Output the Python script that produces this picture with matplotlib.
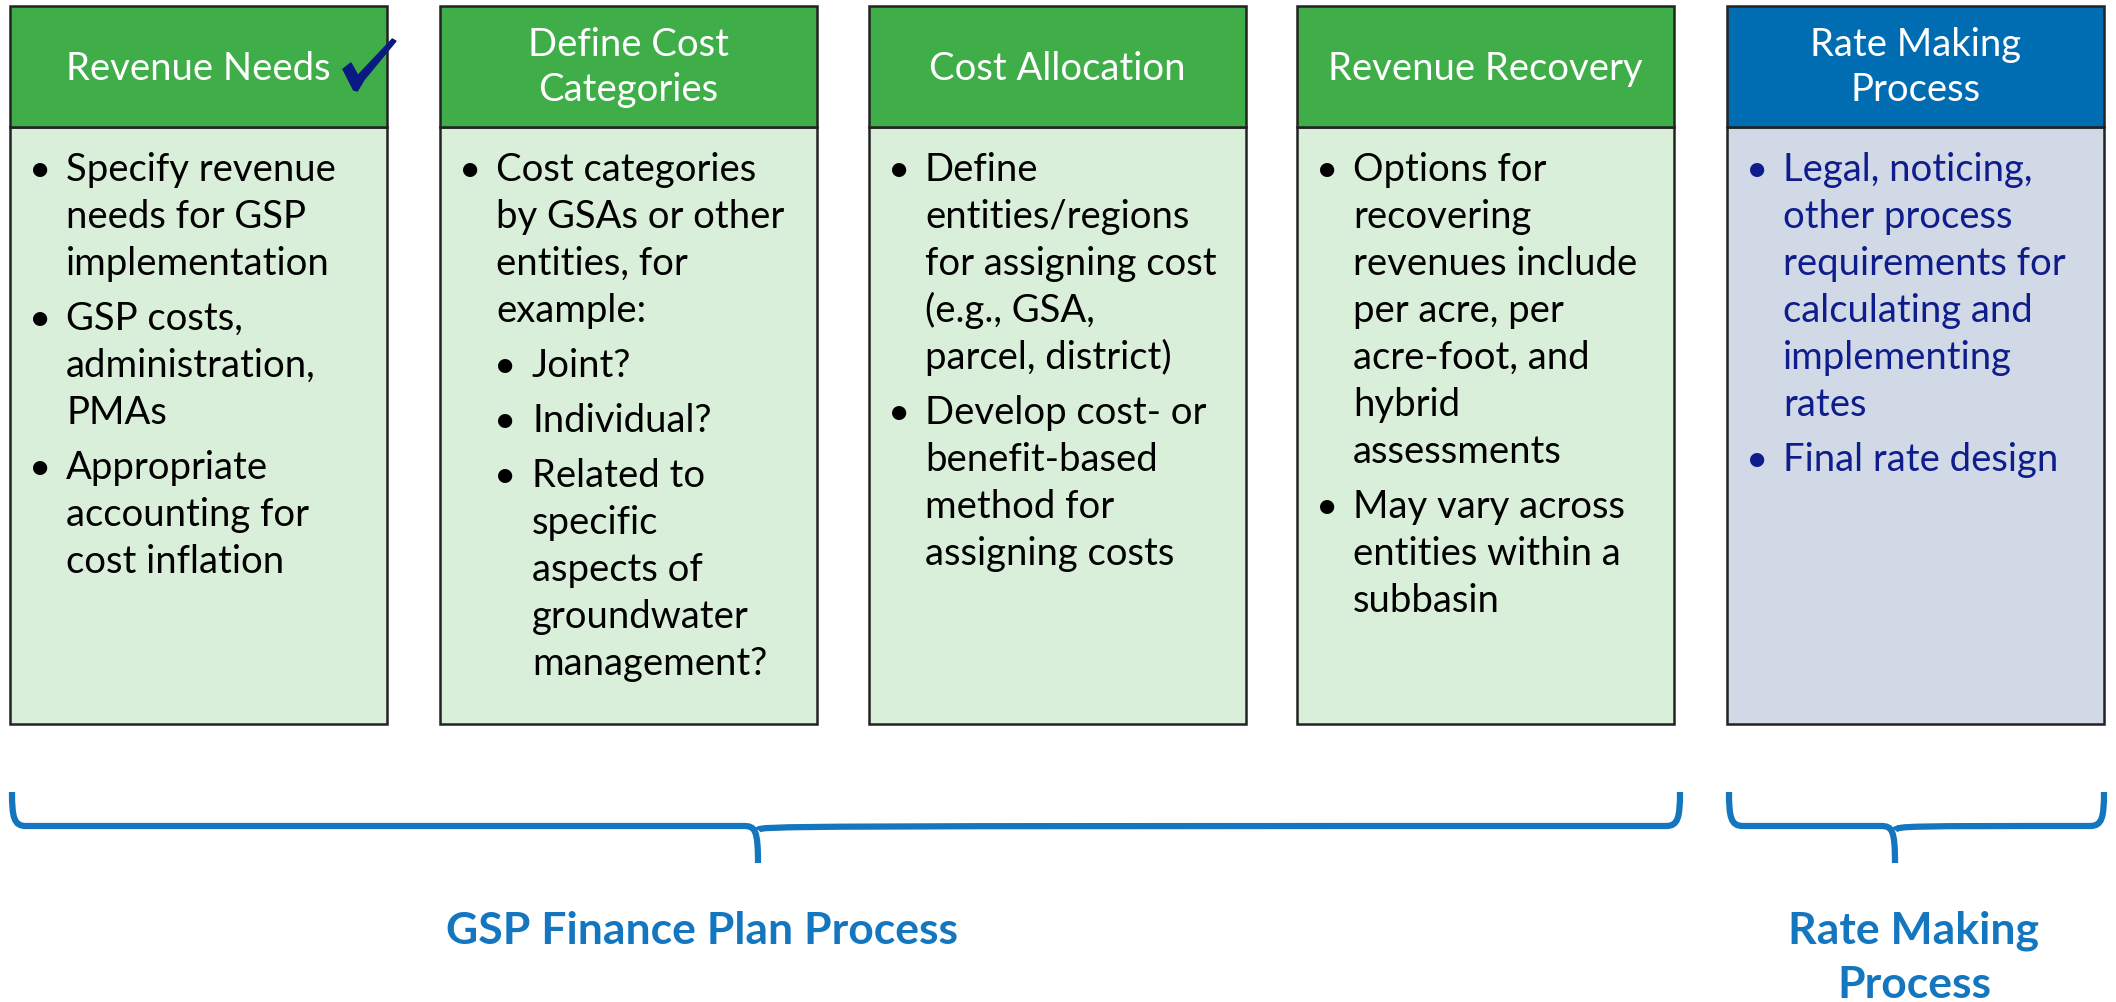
import matplotlib
matplotlib.use("Agg")
import matplotlib.pyplot as plt
from matplotlib.patches import Rectangle, PathPatch, Polygon
from matplotlib.path import Path

# ---- content ----
titles = ["Revenue Needs", "Define Cost\nCategories", "Cost Allocation",
          "Revenue Recovery", "Rate Making\nProcess"]

# each bullet: (level, [wrapped lines])
box1 = [(0, ["Specify revenue", "needs for GSP", "implementation"]),
        (0, ["GSP costs,", "administration,", "PMAs"]),
        (0, ["Appropriate", "accounting for", "cost inflation"])]
box2 = [(0, ["Cost categories", "by GSAs or other", "entities, for", "example:"]),
        (1, ["Joint?"]),
        (1, ["Individual?"]),
        (1, ["Related to", "specific", "aspects of", "groundwater", "management?"])]
box3 = [(0, ["Define", "entities/regions", "for assigning cost", "(e.g., GSA,", "parcel, district)"]),
        (0, ["Develop cost- or", "benefit-based", "method for", "assigning costs"])]
box4 = [(0, ["Options for", "recovering", "revenues include", "per acre, per",
             "acre-foot, and", "hybrid", "assessments"]),
        (0, ["May vary across", "entities within a", "subbasin"])]
box5 = [(0, ["Legal, noticing,", "other process", "requirements for",
             "calculating and", "implementing", "rates"]),
        (0, ["Final rate design"])]
bodies = [box1, box2, box3, box4, box5]

group_labels = ["GSP Finance Plan Process", "Rate Making\nProcess"]
group_spans = [(0, 3), (4, 4)]   # first and last box under each brace

# ---- style ----
GREEN_HEAD = "#3FAE49"
GREEN_BODY = "#DAEFDA"
BLUE_HEAD = "#006CB2"
BLUE_BODY = "#D1D9E6"
BRACE = "#1476BE"
NAVY = "#0E1C8C"
EDGE = "#222222"
FONT = "Lato"

W, H = 2116, 1003
fig = plt.figure(figsize=(W / 100, H / 100), dpi=100)
ax = fig.add_axes([0, 0, 1, 1])
ax.set_xlim(0, W)
ax.set_ylim(H, 0)
ax.axis("off")

box_left = [10, 440, 869, 1297, 1727]
box_w = 377
top, head_bot, bot = 7, 128, 725
line_h = 47
para_gap = 8
fs = 27.5

for i, (title, body) in enumerate(zip(titles, bodies)):
    last = i == len(titles) - 1
    x0 = box_left[i]
    ax.add_patch(Rectangle((x0, head_bot), box_w, bot - head_bot,
                           facecolor=BLUE_BODY if last else GREEN_BODY,
                           edgecolor=EDGE, lw=1.8))
    ax.add_patch(Rectangle((x0, top), box_w, head_bot - top,
                           facecolor=BLUE_HEAD if last else GREEN_HEAD,
                           edgecolor=EDGE, lw=1.8))
    tl = title.split("\n")
    base = 80 if len(tl) == 1 else 56
    for k, t in enumerate(tl):
        ax.text(x0 + box_w / 2, base + k * 45, t, ha="center", va="baseline",
                fontsize=fs, color="white", family=FONT)

    col = NAVY if last else "black"
    y = 181
    for level, lines in body:
        bx = x0 + 30 + level * 35
        tx = x0 + 56 + level * 36
        ax.text(bx, y, "\u2022", ha="center", va="baseline", fontsize=fs,
                color=col, family=FONT)
        for ln in lines:
            ax.text(tx, y, ln, ha="left", va="baseline", fontsize=fs,
                    color=col, family=FONT)
            y += line_h
        y += para_gap

# checkmark next to "Revenue Needs"
chk = [(0.00, 0.58), (0.15, 0.46), (0.28, 0.70), (0.93, 0.00), (1.00, 0.04),
       (0.40, 0.78), (0.27, 1.00), (0.20, 0.98)]
cx, cy, cw, ch = 343, 40, 53, 52
ax.add_patch(Polygon([(cx + u * cw, cy + v * ch) for u, v in chk],
                     closed=True, facecolor="#0B1A82", edgecolor="#0B1A82", lw=1))


def brace(xa, xb, xm, ya, yb, yc, r=14):
    verts = [(xa, ya), (xa, yb - r * 0.6), (xa + 2, yb), (xa + r, yb),
             (xm - r, yb), (xm - 3, yb), (xm, yb + 4), (xm, yc)]
    codes = [Path.MOVETO, Path.CURVE4, Path.CURVE4, Path.CURVE4,
             Path.LINETO, Path.CURVE4, Path.CURVE4, Path.CURVE4]
    verts += [(xm, yb + 4), (xm + 3, yb), (xm + r, yb), (xb - r, yb),
              (xb - 2, yb), (xb, yb - r * 0.6), (xb, ya)]
    codes += [Path.MOVETO, Path.CURVE4, Path.CURVE4, Path.LINETO,
              Path.CURVE4, Path.CURVE4, Path.CURVE4]
    ax.add_patch(PathPatch(Path(verts, codes), facecolor="none",
                           edgecolor=BRACE, lw=4.5, capstyle="butt"))


brace_mid = [758, 1895]
label_x = [702, 1914]
for (a, b), xm, lab, lx in zip(group_spans, brace_mid, group_labels, label_x):
    xa = box_left[a]
    xb = box_left[b] + box_w
    if b < len(box_left) - 1:
        xb = 1680
    brace(xa + 2, xb, xm, 793, 827, 864)
    for k, t in enumerate(lab.split("\n")):
        ax.text(lx, 944 + k * 54, t, ha="center", va="baseline", fontsize=32,
                fontweight="bold", color=BRACE, family=FONT)

fig.savefig("out.png", dpi=100, facecolor="white")
